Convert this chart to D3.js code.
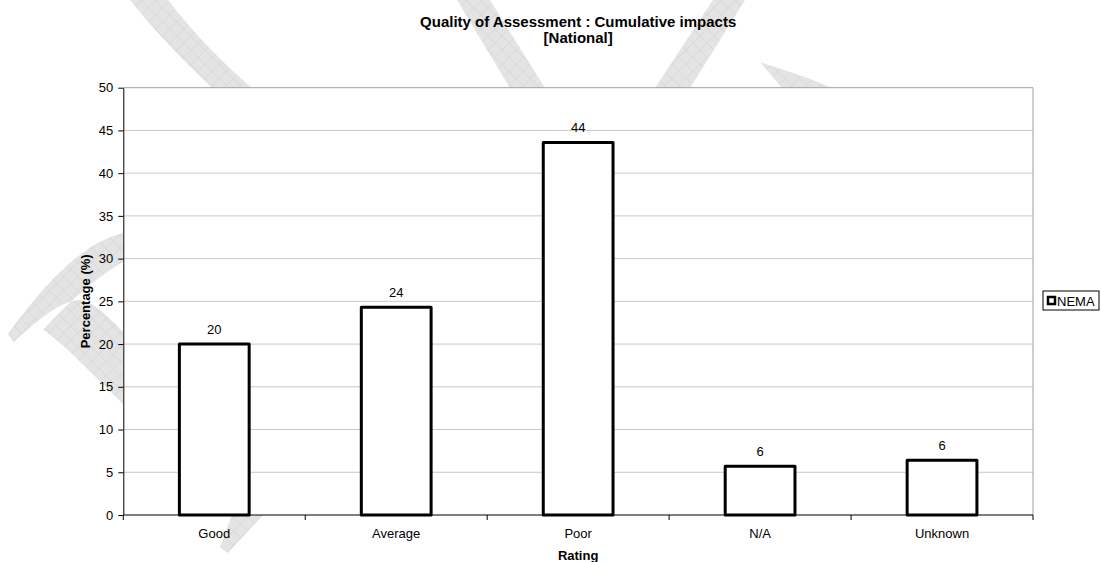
<!DOCTYPE html>
<html>
<head>
<meta charset="utf-8">
<script src="https://cdn.jsdelivr.net/npm/d3@7/dist/d3.min.js"></script>
<style>
  body { margin: 0; background: #fff; }
  svg { display: block; font-family: "Liberation Sans", Arial, sans-serif; }
</style>
</head>
<body>
<div class="chart"></div>
<script>
// chart data
const categories = ['Good', 'Average', 'Poor', 'N/A', 'Unknown']
const nemaValues = [20.0, 24.3, 43.6, 5.7, 6.4]
const valueLabels = ['20', '24', '44', '6', '6']
const yTicks = [0, 5, 10, 15, 20, 25, 30, 35, 40, 45, 50]
const seriesName = 'NEMA'

const W = 1101
const H = 562
// plot area edges in page px
const plot = { left: 123.3, right: 1033, top: 87.7, bottom: 515 }

const svg = d3.select('.chart')
  .append('svg')
    .attr('width', W)
    .attr('height', H)

// ---- faint "draft" watermark, only visible outside the plot area ----
const defs = svg.append('defs')
const pat = defs.append('pattern')
  .attr('id', 'hatch')
  .attr('patternUnits', 'userSpaceOnUse')
  .attr('width', 10).attr('height', 10)
  .attr('patternTransform', 'rotate(45)')
pat.append('rect').attr('width', 10).attr('height', 10).attr('fill', '#e4e4e4')
pat.append('path').attr('d', 'M0,0H10M0,0V10').attr('stroke', '#d2d2d2').attr('stroke-width', 1)

const wm = svg.append('g').attr('fill', 'url(#hatch)')
const wmShapes = [
  'M232,515 L263,515 L228,553 L220,547 Z',
  'M123,233 C95,240 60,262 8,334 L14,342 C40,318 60,302 78,300 C92,300 110,318 123,332 L123,404 L70,352 C55,338 45,330 43,330 C70,300 100,275 123,262 Z',
  'M130,0 L168,0 C195,35 225,65 252,88 L212,88 C185,62 155,32 130,0 Z',
  'M457,0 L490,0 L545,88 L510,88 Z',
  'M713,0 L745,0 L690,88 L655,88 Z',
  'M760,62 C785,70 810,78 832,88 L782,88 Z'
]
wm.selectAll('path')
  .data(wmShapes)
  .join('path')
    .attr('d', d => d)

// plot area hides the watermark
svg.append('rect')
  .attr('x', plot.left).attr('y', plot.top)
  .attr('width', plot.right - plot.left)
  .attr('height', plot.bottom - plot.top)
  .attr('fill', '#fff')

// ---- scales ----
const xScale = d3.scaleBand()
  .domain(categories)
  .range([plot.left, plot.right])
  .padding(0)

const yScale = d3.scaleLinear()
  .domain([0, 50])
  .range([plot.bottom, plot.top])

// gridlines
svg.append('g')
  .selectAll('line')
  .data(yTicks.filter(d => d > 0))
  .join('line')
    .attr('x1', plot.left).attr('x2', plot.right)
    .attr('y1', d => yScale(d)).attr('y2', d => yScale(d))
    .attr('stroke', d => d === 50 ? '#a0a0a0' : '#c8c8c8')
    .attr('stroke-width', 1)

// right border of plot
svg.append('line')
  .attr('x1', plot.right).attr('x2', plot.right)
  .attr('y1', plot.top).attr('y2', plot.bottom)
  .attr('stroke', '#a0a0a0')

// ---- bars ----
const sw = 3
const barW = xScale.bandwidth() * 0.4 - sw
const bars = svg.append('g')
bars.selectAll('rect')
  .data(nemaValues)
  .join('rect')
    .attr('x', (d, i) => xScale(categories[i]) + xScale.bandwidth() / 2 - barW / 2)
    .attr('y', d => yScale(d))
    .attr('width', barW)
    .attr('height', d => yScale(0) - yScale(d))
    .attr('fill', '#fff')
    .attr('stroke', '#000')
    .attr('stroke-width', sw)
    .attr('stroke-linejoin', 'round')

// value labels
svg.append('g')
  .selectAll('text')
  .data(nemaValues)
  .join('text')
    .attr('x', (d, i) => xScale(categories[i]) + xScale.bandwidth() / 2)
    .attr('y', d => yScale(d) - 10)
    .attr('text-anchor', 'middle')
    .attr('font-size', 13)
    .attr('fill', '#000')
    .text((d, i) => valueLabels[i])

// ---- axes ----
const yAxis = d3.axisLeft(yScale)
  .tickValues(yTicks)
  .tickSize(5)
  .tickSizeOuter(0)
  .tickPadding(5)
const gy = svg.append('g')
  .attr('transform', `translate(${plot.left}, 0)`)
  .call(yAxis)
gy.selectAll('text').attr('font-size', 13).attr('fill', '#000').attr('font-family', null)
gy.select('.domain').attr('stroke', '#000')

// category labels at band centres, no ticks
const xAxis = d3.axisBottom(xScale)
  .tickSize(0)
  .tickPadding(14)
const gx = svg.append('g')
  .attr('transform', `translate(0, ${plot.bottom})`)
  .call(xAxis)
gx.select('.domain').remove()
gx.selectAll('text').attr('font-size', 13).attr('fill', '#000').attr('font-family', null)

// tick marks sit on category boundaries
const bounds = d3.range(categories.length + 1)
  .map(i => plot.left + i * xScale.step())
svg.append('g')
  .selectAll('line')
  .data(bounds)
  .join('line')
    .attr('x1', d => d).attr('x2', d => d)
    .attr('y1', plot.bottom).attr('y2', plot.bottom + 5)
    .attr('stroke', '#000')
svg.append('line')
  .attr('x1', plot.left).attr('x2', plot.right)
  .attr('y1', plot.bottom).attr('y2', plot.bottom)
  .attr('stroke', '#000')

// ---- titles ----
const cx = (plot.left + plot.right) / 2
svg.append('text')
  .attr('x', cx).attr('y', 27)
  .attr('text-anchor', 'middle')
  .attr('font-size', 15).attr('font-weight', 'bold')
  .text('Quality of Assessment : Cumulative impacts')
svg.append('text')
  .attr('x', cx).attr('y', 43)
  .attr('text-anchor', 'middle')
  .attr('font-size', 15).attr('font-weight', 'bold')
  .text('[National]')

svg.append('text')
  .attr('x', cx).attr('y', 560)
  .attr('text-anchor', 'middle')
  .attr('font-size', 13).attr('font-weight', 'bold')
  .text('Rating')

svg.append('text')
  .attr('transform', `translate(90, ${(plot.top + plot.bottom) / 2}) rotate(-90)`)
  .attr('text-anchor', 'middle')
  .attr('font-size', 13).attr('font-weight', 'bold')
  .text('Percentage (%)')

// ---- legend ----
const lg = svg.append('g').attr('transform', 'translate(1043, 291)')
lg.append('rect')
  .attr('width', 56).attr('height', 19)
  .attr('fill', '#fff').attr('stroke', '#000').attr('stroke-width', 1)
lg.append('rect')
  .attr('x', 5).attr('y', 6).attr('width', 7).attr('height', 7)
  .attr('fill', '#fff').attr('stroke', '#000').attr('stroke-width', 2.5)
lg.append('text')
  .attr('x', 14).attr('y', 14.5)
  .attr('font-size', 13)
  .text(seriesName)
</script>
</body>
</html>
